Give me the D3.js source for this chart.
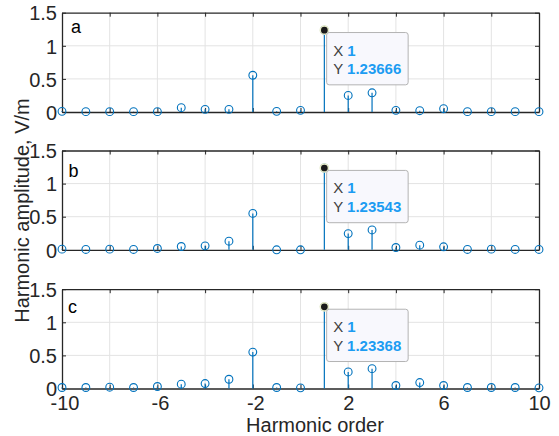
<!DOCTYPE html>
<html>
<head>
<meta charset="utf-8">
<script src="https://cdn.jsdelivr.net/npm/d3@7"></script>
<style>
body{margin:0;background:#fff;}
text{font-family:Arial,"Liberation Sans",sans-serif;}
</style>
</head>
<body>
<script>
// harmonic orders and amplitudes (V/m) for the three cases
var orders = d3.range(-10, 11);
var ampA = [0.01,0.005,0.005,0.005,0.005,0.066,0.04,0.04,0.555,0.01,0.025,1.23666,0.25,0.29,0.025,0.02,0.05,0.005,0.005,0.005,0.005];
var ampB = [0.01,0.005,0.01,0.005,0.02,0.05,0.06,0.13,0.55,0.0,0.0,1.23543,0.245,0.30,0.035,0.07,0.045,0.005,0.01,0.005,0.005];
var ampC = [0.015,0.015,0.02,0.015,0.03,0.065,0.075,0.14,0.55,0.015,0.01,1.23368,0.25,0.30,0.045,0.09,0.045,0.015,0.015,0.015,0.01];
var panelNames = ["a","b","c"];
var tipLabels = ["1.23666","1.23543","1.23368"];
var xTicks = d3.range(-10, 11, 2);
var xTickLabels = [-10,-6,-2,2,6,10];
var yTicks = [0,0.5,1,1.5];

var panels = [ampA, ampB, ampC];
var W = 559, H = 436;
var left = 62, right = 539, ph = 99.3;
var tops = [12.7, 150.5, 289.2];
var letterPos = [[71, 33.3], [68.5, 176.7], [68, 312.7]];
var stemCol = "#0072BD", axCol = "#262626";

var svg = d3.select("body").append("svg").attr("width", W).attr("height", H);

var x = d3.scaleLinear().domain([-10, 10]).range([left, right]);

panels.forEach(function(vals, p){
  var top = tops[p];
  var y = d3.scaleLinear().domain([0, 1.5]).range([top + ph, top]);
  var g = svg.append("g");

  // grid
  g.selectAll("line.gx").data(xTicks.slice(1, -1)).enter().append("line")
    .attr("x1", d => x(d)).attr("x2", d => x(d)).attr("y1", top).attr("y2", top + ph)
    .attr("stroke", "#e3e3e3").attr("stroke-width", 1);
  g.selectAll("line.gy").data(yTicks.slice(1, -1)).enter().append("line")
    .attr("x1", left).attr("x2", right).attr("y1", d => y(d)).attr("y2", d => y(d))
    .attr("stroke", "#e3e3e3").attr("stroke-width", 1);

  // axes
  var xa = d3.axisBottom(x).tickValues(xTicks).tickSizeInner(-4).tickSizeOuter(0)
    .tickFormat(d => (p == 2 && xTickLabels.indexOf(d) >= 0) ? d : "");
  var xt = d3.axisTop(x).tickValues(xTicks).tickSizeInner(-4).tickSizeOuter(0).tickFormat("");
  var ya = d3.axisLeft(y).tickValues(yTicks).tickSizeInner(-4).tickSizeOuter(0).tickFormat(d3.format("~g"));
  var yr = d3.axisRight(y).tickValues(yTicks).tickSizeInner(-4).tickSizeOuter(0).tickFormat("");

  var axes = [[xa, "translate(0," + (top + ph) + ")"], [xt, "translate(0," + top + ")"],
   [ya, "translate(" + left + ",0)"], [yr, "translate(" + right + ",0)"]].map(function(a){
    var ag = g.append("g").attr("transform", a[1]).call(a[0]);
    ag.select(".domain").attr("stroke", axCol).attr("stroke-width", 1.3);
    ag.selectAll(".tick line").attr("stroke", axCol);
    ag.selectAll("text").attr("fill", axCol).style("font-size", "20px")
      .style("font-family", "Arial,'Liberation Sans',sans-serif");
    return ag;
  });
  axes[0].selectAll(".tick text").attr("y", 7.5).attr("dx", d => d < 0 ? 2.5 : 0);
  axes[2].selectAll(".tick text").attr("x", -5).attr("dy", "0.36em");

  // stems
  var pts = orders.map((o, i) => ({o: o, v: vals[i]}));
  g.selectAll("line.stem").data(pts).enter().append("line")
    .attr("x1", d => x(d.o)).attr("x2", d => x(d.o))
    .attr("y1", y(0)).attr("y2", d => y(d.v))
    .attr("stroke", stemCol).attr("stroke-width", 1.2);
  g.selectAll("circle.mk").data(pts).enter().append("circle")
    .attr("cx", d => x(d.o)).attr("cy", d => y(d.v)).attr("r", 3.9)
    .attr("fill", "none").attr("stroke", stemCol).attr("stroke-width", 1.1);

  // panel letter
  g.append("text").attr("x", letterPos[p][0]).attr("y", letterPos[p][1]).text(panelNames[p])
    .attr("fill", "#000").style("font-size", "18px");

  // datatip
  var px = x(1), py = y(vals[11]);
  g.append("circle").attr("cx", px).attr("cy", py).attr("r", 4.1)
    .attr("fill", "#1a1a1a").attr("stroke", "#e8ecc8").attr("stroke-width", 1.5);
  var tb = g.append("g").attr("transform", "translate(" + (px + 2.3) + "," + (py + 2.4) + ")");
  tb.append("rect").attr("width", 81.5).attr("height", 52.3).attr("rx", 2.5)
    .attr("fill", "#f8f8fd").attr("stroke", "#b3b3b3").attr("stroke-width", 1);
  var t1 = tb.append("text").attr("x", 6.5).attr("y", 23).style("font-size", "15px");
  t1.append("tspan").text("X ").attr("fill", "#404040");
  t1.append("tspan").text("1").attr("fill", "#1c9cf2").attr("font-weight", "bold");
  var t2 = tb.append("text").attr("x", 6.5).attr("y", 41.5).style("font-size", "15px");
  t2.append("tspan").text("Y ").attr("fill", "#404040");
  t2.append("tspan").text(tipLabels[p]).attr("fill", "#1c9cf2").attr("font-weight", "bold");
});

svg.append("text").attr("x", 315).attr("y", 432).attr("text-anchor", "middle")
  .text("Harmonic order").attr("fill", axCol).style("font-size", "20px");
svg.append("text").attr("transform", "translate(28.5,210.5) rotate(-90)").attr("text-anchor", "middle")
  .text("Harmonic amplitude, V/m").attr("fill", axCol).style("font-size", "20px");
</script>
</body>
</html>
